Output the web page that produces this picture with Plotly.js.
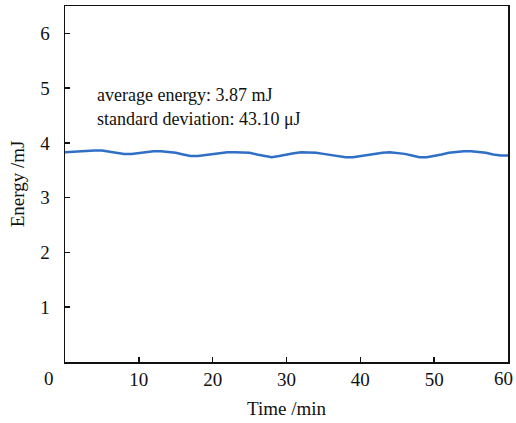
<!DOCTYPE html>
<html>
<head>
<meta charset="utf-8">
<script src="https://cdn.plot.ly/plotly-3.0.1.min.js"></script>
<style>html,body{margin:0;padding:0;background:#fff}#chart{width:516px;height:423px}</style>
</head>
<body>
<div id="chart"></div>
<script>
const timeMin = [0,1,2,3,4,5,6,7,8,9,10,11,12,13,14,15,16,17,18,19,20,21,22,23,24,25,26,27,28,29,30,31,32,33,34,35,36,37,38,39,40,41,42,43,44,45,46,47,48,49,50,51,52,53,54,55,56,57,58,59,60];
const energyMJ = [3.83,3.84,3.84,3.85,3.86,3.86,3.84,3.81,3.80,3.80,3.82,3.84,3.85,3.85,3.84,3.82,3.79,3.76,3.76,3.78,3.80,3.82,3.83,3.83,3.83,3.82,3.79,3.76,3.74,3.76,3.79,3.81,3.83,3.83,3.82,3.80,3.78,3.75,3.74,3.74,3.76,3.79,3.81,3.82,3.83,3.82,3.80,3.77,3.74,3.74,3.76,3.79,3.82,3.84,3.85,3.85,3.84,3.82,3.79,3.77,3.77];
const xTicks = [10,20,30,40,50];
const yTicks = [1,2,3,4,5,6];
const edgeLabels = ["0","60"];
const noteLines = ["average energy: 3.87 mJ","standard deviation: 43.10 μJ"];

const font = {family: "Liberation Serif, serif", size: 19, color: "#111"};
const data = [{
  x: timeMin, y: energyMJ, type: "scatter", mode: "lines",
  line: {color: "#2f6fc6", width: 2.5}, hoverinfo: "skip"
}];
const layout = {
  width: 516, height: 423,
  margin: {l: 65, r: 8, t: 6, b: 61},
  paper_bgcolor: "#fff", plot_bgcolor: "#fff",
  font: font,
  showlegend: false,
  xaxis: {
    range: [0, 60], tickvals: xTicks.concat([60]), ticktext: xTicks.map(String).concat([""]),
    ticks: "inside", ticklen: 5, tickwidth: 1.5, tickcolor: "#111",
    showline: true, linecolor: "#111", linewidth: 1.5, mirror: true,
    showgrid: false, zeroline: false,
    tickfont: font,
    title: {text: "Time /min", font: font, standoff: 12}
  },
  yaxis: {
    range: [0, 6.5], tickvals: yTicks, ticktext: yTicks.map(String),
    ticks: "inside", ticklen: 5, tickwidth: 1.5, tickcolor: "#111",
    showline: true, linecolor: "#111", linewidth: 1.5, mirror: true,
    showgrid: false, zeroline: false, ticklabelstandoff: 10,
    tickfont: font,
    title: {text: "Energy /mJ", font: font, standoff: 10}
  },
  annotations: [
    {xref: "paper", yref: "paper", x: -0.036, y: -0.045, xanchor: "center", yanchor: "middle",
     text: edgeLabels[0], showarrow: false, font: font},
    {xref: "paper", yref: "paper", x: 1.0158, y: -0.045, xanchor: "right", yanchor: "middle",
     text: edgeLabels[1], showarrow: false, font: font},
    {xref: "x", yref: "y", x: 4.0, y: 4.88, xanchor: "left", yanchor: "middle",
     text: noteLines[0], showarrow: false, font: {family: font.family, size: 18, color: "#111"}},
    {xref: "x", yref: "y", x: 4.0, y: 4.44, xanchor: "left", yanchor: "middle",
     text: noteLines[1], showarrow: false, font: {family: font.family, size: 18, color: "#111"}}
  ]
};
Plotly.newPlot("chart", data, layout, {displayModeBar: false, staticPlot: true});
</script>
</body>
</html>
